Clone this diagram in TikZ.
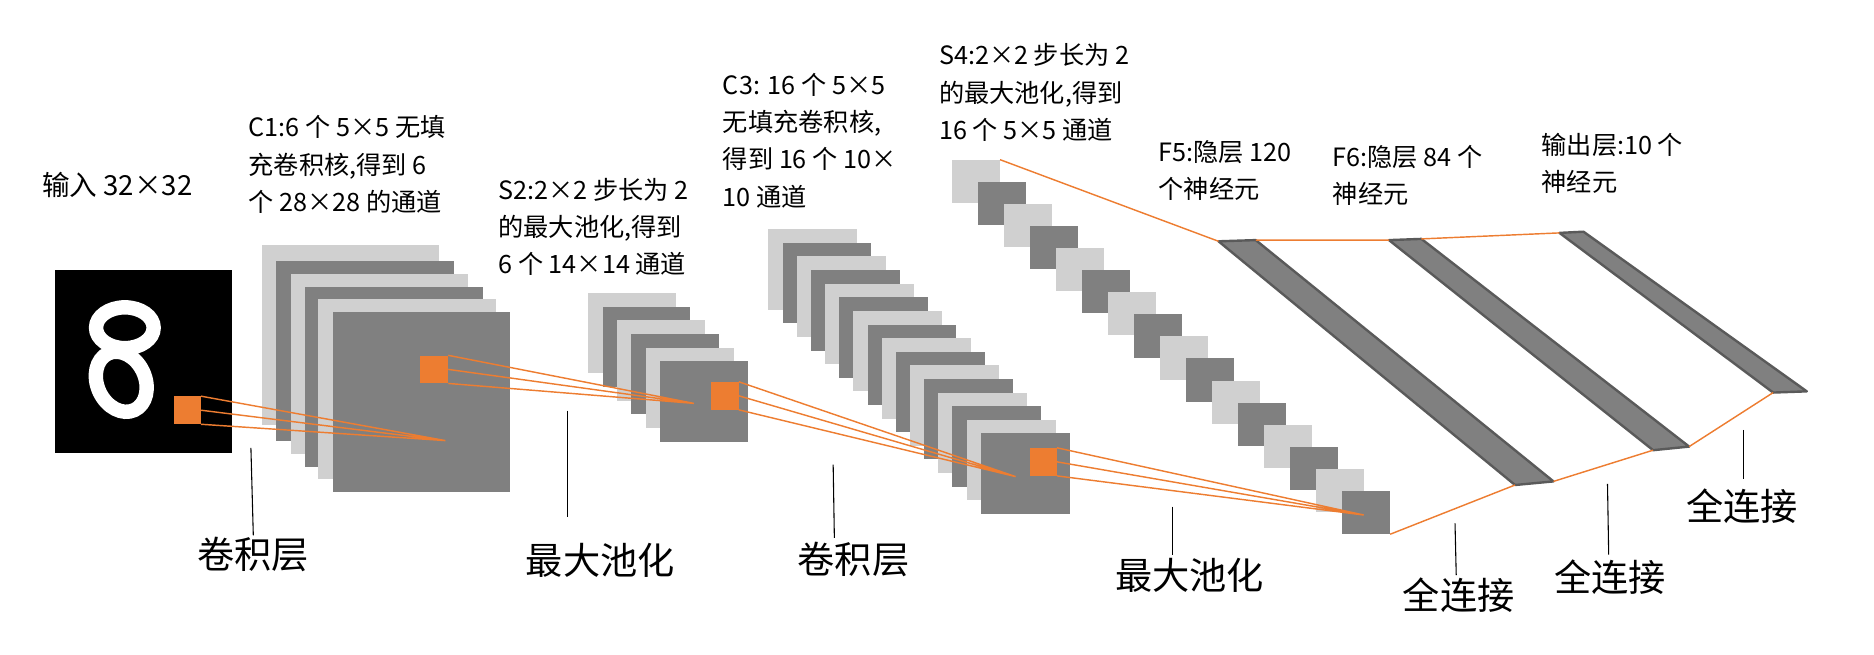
\documentclass[tikz,border=0pt]{standalone}
\usepackage{fontspec}
\setmainfont{Noto Sans CJK SC}
\begin{document}
\begin{tikzpicture}[x=1pt,y=-1pt,
  org/.style={draw=none,fill=orng},
  ol/.style={draw=orng,line width=1.2pt},
  bar/.style={fill=plateD,draw=barE,line width=2pt,line join=round},
  small/.style={anchor=west,font=\fontsize{21}{31}\selectfont,align=left,inner sep=0pt},
  big/.style={font=\fontsize{31}{31}\selectfont,inner sep=0pt},
  pt/.style={draw=black,line width=0.9pt}]
\definecolor{plateL}{HTML}{D0D0D0}
\definecolor{plateD}{HTML}{808080}
\definecolor{barE}{HTML}{5A5A5A}
\definecolor{orng}{HTML}{ED7D31}
\useasboundingbox (0,0) rectangle (1561,545);
% input image
\fill[black] (46,225) rectangle (193,377);
\draw[white,line width=12pt] (104,273) ellipse [x radius=24, y radius=17];
\draw[white,line width=12pt,rotate around={25:(101,318)}] (101,318) ellipse [x radius=20, y radius=26];
\node[org,minimum width=22,minimum height=23,anchor=north west] (in) at (145,330) {};
% C1 plates
\foreach \i/\x/\y in {0/218/204,1/230/217,2/242/228,3/254/239,4/265/249,5/277/260}{
  \pgfmathtruncatemacro{\m}{mod(\i,2)}
  \ifnum\m=0 \fill[plateL] (\x,\y) rectangle ++(148,150); \else \fill[plateD] (\x,\y) rectangle ++(148,150); \fi}
\node[org,minimum width=23,minimum height=23,anchor=north west] (c1) at (350,296) {};
\coordinate (p1) at (371,367);
\draw[ol] (in.north east) -- (p1) (in.east) -- (p1) (in.south east) -- (p1);
% S2 plates
\foreach \i in {0,...,5}{
  \pgfmathsetmacro{\x}{490+12*\i}\pgfmathsetmacro{\y}{244+11.4*\i}
  \pgfmathtruncatemacro{\m}{mod(\i,2)}
  \ifnum\m=0 \fill[plateL] (\x,\y) rectangle ++(73,67); \else \fill[plateD] (\x,\y) rectangle ++(73,67); \fi}
\node[org,minimum width=23,minimum height=23,anchor=north west] (s2) at (592,318) {};
\coordinate (p2) at (578,336);
\draw[ol] (c1.north east) -- (p2) (c1.east) -- (p2) (c1.south east) -- (p2);
% C3 plates
\foreach \i in {0,...,15}{
  \pgfmathsetmacro{\x}{640+11.8*\i}\pgfmathsetmacro{\y}{191+11.33*\i}
  \pgfmathtruncatemacro{\m}{mod(\i,2)}
  \ifnum\m=0 \fill[plateL] (\x,\y) rectangle ++(74,67); \else \fill[plateD] (\x,\y) rectangle ++(74,67); \fi}
\node[org,minimum width=22,minimum height=23,anchor=north west] (c3) at (858,373) {};
\coordinate (p3) at (846,397);
\draw[ol] (s2.north east) -- (p3) (s2.east) -- (p3) (s2.south east) -- (p3);
% S4 squares
\foreach \i in {0,...,15}{
  \pgfmathsetmacro{\x}{793+21.67*\i}\pgfmathsetmacro{\y}{133+18.4*\i}
  \pgfmathtruncatemacro{\m}{mod(\i,2)}
  \ifnum\m=0 \fill[plateL] (\x,\y) rectangle ++(40,36); \else \fill[plateD] (\x,\y) rectangle ++(40,36); \fi}
\coordinate (s4a) at (833,133);
\coordinate (s4b) at (1158,445);
\coordinate (p4) at (1136,429);
\draw[ol] (c3.north east) -- (p4) (c3.east) -- (p4) (c3.south east) -- (p4);
% FC bars
\draw[bar] (1015,201) coordinate (f5a) -- (1046,200) coordinate (f5b) -- (1294,401) coordinate (f5c) -- (1262,404) coordinate (f5d) -- cycle;
\draw[bar] (1157,200) coordinate (f6a) -- (1184,199) coordinate (f6b) -- (1407,372) coordinate (f6c) -- (1377,375) coordinate (f6d) -- cycle;
\draw[bar] (1299,194) coordinate (oa) -- (1319,193) coordinate (ob) -- (1505,326) coordinate (oc) -- (1477,327) coordinate (od) -- cycle;
\draw[ol] (s4a) -- (f5a) (f5b) -- (f6a) (f6b) -- (oa);
\draw[ol] (s4b) -- (f5d) (f5c) -- (f6d) (f6c) -- (od);
% top texts
\node[small,font=\fontsize{23}{31}\selectfont] (t0) at (35,154) {输入 32×32};
\node[small] (t1) at (207,137) {C1:6 个 5×5 无填\\充卷积核,得到 6\\个 28×28 的通道};
\node[small] (t2) at (415,189) {S2:2×2 步长为 2\\的最大池化,得到\\6 个 14×14 通道};
\node[small] (t3) at (602,117) {C3: 16 个 5×5\\无填充卷积核,\\得到 16 个 10×\\10 通道};
\node[small] (t4) at (782,77) {S4:2×2 步长为 2\\的最大池化,得到\\16 个 5×5 通道};
\node[small] (t5) at (965,142) {F5:隐层 120\\个神经元};
\node[small] (t6) at (1110,146) {F6:隐层 84 个\\神经元};
\node[small] (t7) at (1284,136) {输出层:10 个\\神经元};
% bottom labels
\node[big] (l1) at (211,462) {卷积层};
\node[big] (l2) at (500,467) {最大池化};
\node[big] (l3) at (711,466) {卷积层};
\node[big] (l4) at (991,479) {最大池化};
\node[big] (l5) at (1215,496) {全连接};
\node[big] (l6) at (1341,481) {全连接};
\node[big] (l7) at (1451,422) {全连接};
\draw[pt] (209,373) -- (211,446);
\draw[pt] (473,342) -- (473,431);
\draw[pt] (694,387) -- (695,448);
\draw[pt] (977,422) -- (977,462);
\draw[pt] (1212,436) -- (1213,479);
\draw[pt] (1339,403) -- (1340,462);
\draw[pt] (1452,358) -- (1452,399);
\end{tikzpicture}
\end{document}
